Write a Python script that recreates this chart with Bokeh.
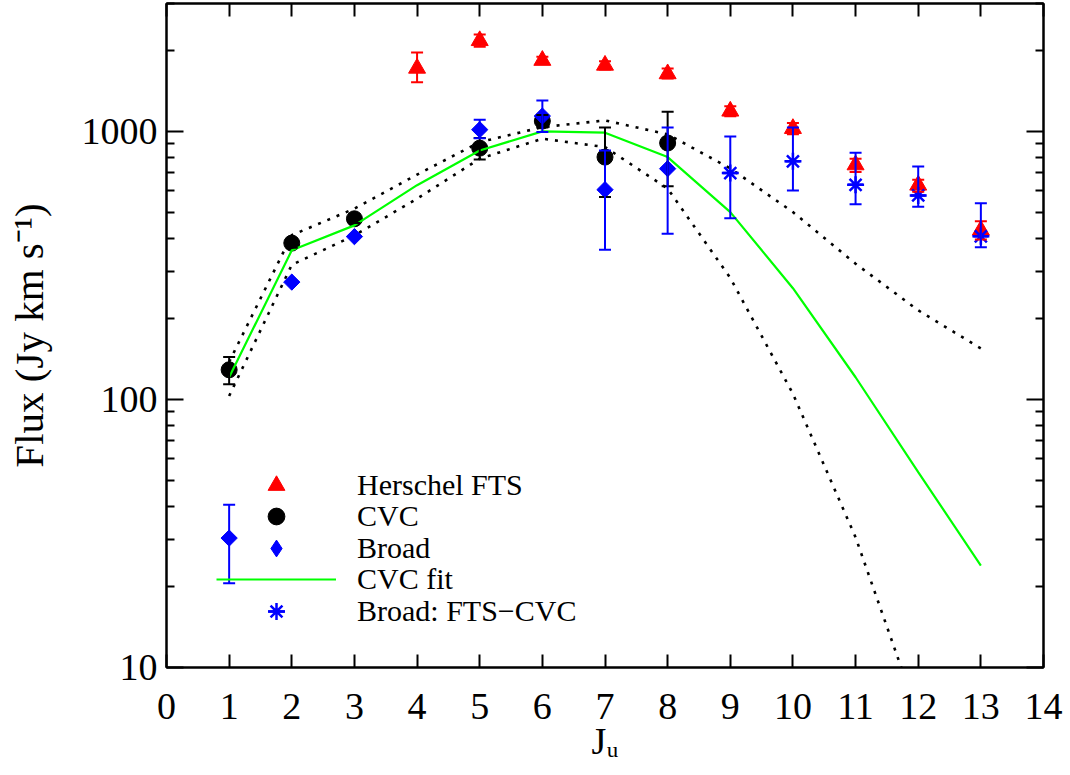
import numpy as np
from bokeh.plotting import figure
from bokeh.models import (ColumnDataSource, Range1d, FixedTicker, PrintfTickFormatter,
                          LinearAxis, LogAxis, Whisker, TeeHead, Legend, LegendItem)
from bokeh.embed import file_html
from bokeh.resources import INLINE

# ---- data -----------------------------------------------------------------
# Herschel FTS line fluxes (Jy km/s) with 1-sigma limits
J_fts = [4, 5, 6, 7, 8, 9, 10, 11, 12, 13]
fts_flux = [1720, 2180, 1840, 1765, 1640, 1190, 1025, 750, 630, 428]
fts_lo = [1525, 2070, 1790, 1700, 1575, 1140, 975, 705, 595, 395]
fts_hi = [1970, 2300, 1900, 1825, 1715, 1240, 1075, 790, 660, 462]

# CVC component
J_cvc = [1, 2, 3, 5, 6, 7, 8]
cvc_flux = [129, 383, 472, 866, 1093, 802, 905]
cvc_lo = [114, 368, 455, 786, 1035, 569, 624]
cvc_hi = [144, 398, 490, 944, 1150, 1035, 1184]

# Broad component
J_broad = [2, 3, 5, 6, 7, 8]
broad_flux = [274, 405, 1015, 1141, 606, 726]
broad_lo = [274, 405, 942, 994, 362, 415]
broad_hi = [274, 405, 1105, 1305, 849, 1035]

# Broad component derived as FTS - CVC
J_diff = [9, 10, 11, 12, 13]
diff_flux = [699, 773, 632, 577, 406]
diff_lo = [474, 602, 535, 523, 370]
diff_hi = [958, 1035, 833, 740, 540]

# representative broad-component uncertainty
J_err = [1]
err_flux = [30.4]
err_lo = [20.6]
err_hi = [40.5]

# CVC model fit and its envelope
J_fit = [1, 2, 3, 4, 5, 6, 7, 8, 9, 10, 11, 12, 13]
fit_flux = [121, 360, 446, 630, 849, 1000, 989, 802, 500, 260, 121, 53.6, 24.0]
fit_upper = [138, 410, 515, 690, 912, 1037, 1099, 975, 728, 500, 321, 215, 155]
J_low = [1, 2, 3, 4, 5, 6, 7, 8, 9, 10, 11, 12]
fit_lower = [103, 318, 409, 561, 791, 939, 874, 612, 284, 105, 30.6, 6.6]

x_ticks = list(range(0, 15))
y_ticks = [10, 100, 1000]
y_minor = [m * d for d in y_ticks for m in range(2, 10)]

legend_labels = ["Herschel FTS", "CVC", "Broad", "CVC fit", "Broad: FTS\u2212CVC"]

SERIF = "Liberation Serif"
RED, BLUE, GREEN = "#ff0000", "#0000ff", "#00ff00"

# ---- figure ---------------------------------------------------------------
p = figure(width=1070, height=775, x_range=Range1d(0, 14), y_range=Range1d(10, 3000),
           y_axis_type="log", output_backend="svg", toolbar_location=None,
           min_border_left=166, min_border_right=27, min_border_top=3,
           min_border_bottom=108, background_fill_color="white",
           border_fill_color="white")
p.grid.visible = False
p.outline_line_color = "black"
p.outline_line_width = 2


def style_x(ax, labels=True):
    ax.ticker = FixedTicker(ticks=x_ticks, minor_ticks=[])
    ax.axis_line_width = 2
    ax.major_tick_line_width = 2
    ax.major_tick_in = 13
    ax.major_tick_out = 0
    ax.minor_tick_line_color = None
    if labels:
        ax.major_label_text_font = SERIF
        ax.major_label_text_font_size = "38px"
        ax.major_label_text_color = "black"
        ax.major_label_standoff = 26
    else:
        ax.major_label_text_color = None
        ax.major_label_text_font_size = "1px"
        ax.major_label_standoff = 0


def style_y(ax, labels=True):
    ax.ticker = FixedTicker(ticks=y_ticks, minor_ticks=y_minor)
    ax.formatter = PrintfTickFormatter(format="%d")
    ax.axis_line_width = 2
    ax.major_tick_line_width = 2
    ax.minor_tick_line_width = 2
    ax.major_tick_in = 17
    ax.major_tick_out = 0
    ax.minor_tick_in = 8
    ax.minor_tick_out = 0
    if labels:
        ax.major_label_text_font = SERIF
        ax.major_label_text_font_size = "38px"
        ax.major_label_text_color = "black"
        ax.major_label_standoff = 9
    else:
        ax.major_label_text_color = None
        ax.major_label_text_font_size = "1px"
        ax.major_label_standoff = 0


xa = p.xaxis[0]
style_x(xa)
xa.axis_label = "J\u1d64"
xa.axis_label_text_font = SERIF
xa.axis_label_text_font_style = "normal"
xa.axis_label_text_font_size = "38px"
xa.axis_label_text_color = "black"
xa.axis_label_standoff = -2

ya = p.yaxis[0]
style_y(ya)
ya.axis_label = "Flux (Jy km s\u207b\u00b9)"
ya.axis_label_text_font = SERIF
ya.axis_label_text_font_style = "normal"
ya.axis_label_text_font_size = "41px"
ya.axis_label_text_color = "black"
ya.axis_label_standoff = 27

top = LinearAxis()
style_x(top, labels=False)
p.add_layout(top, "above")
right = LogAxis()
style_y(right, labels=False)
p.add_layout(right, "right")

# ---- model curves ---------------------------------------------------------
p.line(J_fit, fit_upper, line_color="black", line_width=2.6, line_dash="3 7")
p.line(J_low, fit_lower, line_color="black", line_width=2.6, line_dash="3 7")


def whiskers(xs, lo, hi, color, width=2):
    src = ColumnDataSource(dict(x=xs, lo=lo, hi=hi))
    w = Whisker(base="x", lower="lo", upper="hi", source=src, level="glyph",
                line_color=color, line_width=width,
                upper_head=TeeHead(size=12, line_color=color, line_width=width),
                lower_head=TeeHead(size=12, line_color=color, line_width=width))
    p.add_layout(w)


# ---- measurements ---------------------------------------------------------
whiskers(J_cvc, cvc_lo, cvc_hi, "black")
r_cvc = p.scatter(J_cvc, cvc_flux, marker="circle", size=16,
                  fill_color="black", line_color="black")

r_fit = p.line(J_fit, fit_flux, line_color=GREEN, line_width=2.2)

whiskers(J_fts, fts_lo, fts_hi, RED)
r_fts = p.scatter(J_fts, fts_flux, marker="triangle", size=17,
                  fill_color=RED, line_color=RED)

whiskers(J_broad, broad_lo, broad_hi, BLUE)
whiskers(J_err, err_lo, err_hi, BLUE)
# diamond outline used for the key; it sits fully inside the rotated squares
r_broad_key = p.scatter(J_broad, broad_flux, marker="diamond", size=15,
                        fill_color=BLUE, line_color=BLUE)
r_broad = p.scatter(J_broad + J_err, broad_flux + err_flux, marker="square",
                    angle=np.pi / 4, size=11.5, fill_color=BLUE, line_color=BLUE)

whiskers(J_diff, diff_lo, diff_hi, BLUE)
r_ast = p.scatter(J_diff, diff_flux, marker="asterisk", size=17,
                  line_color=BLUE, line_width=2.5)
r_dash = p.scatter(J_diff, diff_flux, marker="dash", size=15,
                   line_color=BLUE, line_width=2.5)

# ---- key: one single-entry legend per row ----------------------------------
key_renderers = [[r_fts], [r_cvc], [r_broad_key], [r_fit], [r_ast, r_dash]]
key_rows = [161, 130, 98, 67, 35]  # bottom offsets of each key row (px)
for lab, rends, row in zip(legend_labels, key_renderers, key_rows):
    leg = Legend(items=[LegendItem(label=lab, renderers=rends)],
                 location=(50, row),
                 glyph_width=120, glyph_height=42, label_height=20,
                 padding=0, margin=0, label_standoff=21,
                 label_text_font=SERIF, label_text_font_size="30px",
                 label_text_color="black",
                 border_line_alpha=0, background_fill_alpha=0)
    p.add_layout(leg)

open("out.html", "w").write(file_html(p, INLINE))
